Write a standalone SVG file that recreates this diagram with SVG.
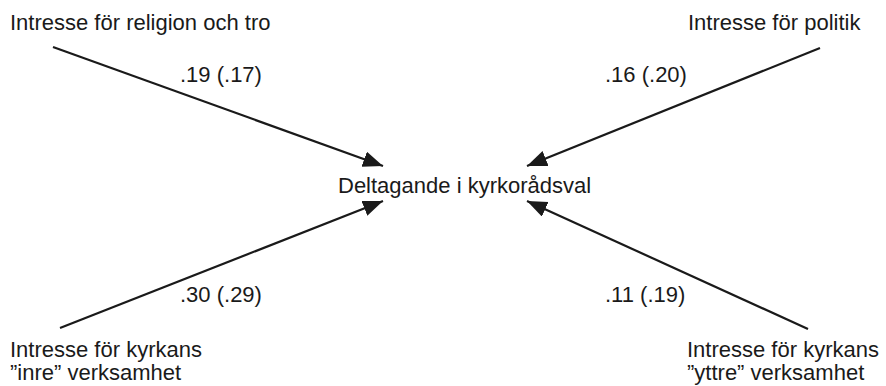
<svg xmlns="http://www.w3.org/2000/svg" width="886" height="386" viewBox="0 0 886 386">
<defs>
<style>
text { font-family: "Liberation Sans", Arial, sans-serif; font-size: 22px; fill: #1a1a1a; }
.conn { stroke: #1a1a1a; stroke-width: 2.2; fill: none; }
</style>
<marker id="arr" markerUnits="userSpaceOnUse" markerWidth="22" markerHeight="18" refX="20" refY="8" orient="auto">
<path d="M0,0 L20,8 L0,16 Z" fill="#1a1a1a"/>
</marker>
</defs>
<rect width="886" height="386" fill="#ffffff"/>
<g id="connectors">
<line class="conn" x1="53" y1="47" x2="383" y2="166" marker-end="url(#arr)"/>
<line class="conn" x1="820" y1="48" x2="527" y2="166" marker-end="url(#arr)"/>
<line class="conn" x1="60" y1="328" x2="383" y2="201" marker-end="url(#arr)"/>
<line class="conn" x1="808" y1="329" x2="527" y2="201" marker-end="url(#arr)"/>
<text x="180" y="82">.19 (.17)</text>
<text x="605" y="82">.16 (.20)</text>
<text x="180" y="302">.30 (.29)</text>
<text x="605" y="302">.11 (.19)</text>
</g>
<g id="religion">
<text x="10" y="30">Intresse för religion och tro</text>
</g>
<g id="politik">
<text x="688" y="30">Intresse för politik</text>
</g>
<g id="deltagande">
<text x="338" y="193">Deltagande i kyrkorådsval</text>
</g>
<g id="inre">
<text x="10" y="357">Intresse för kyrkans</text>
<text x="10" y="380">”inre” verksamhet</text>
</g>
<g id="yttre">
<text x="687" y="357">Intresse för kyrkans</text>
<text x="687" y="380">”yttre” verksamhet</text>
</g>
</svg>
